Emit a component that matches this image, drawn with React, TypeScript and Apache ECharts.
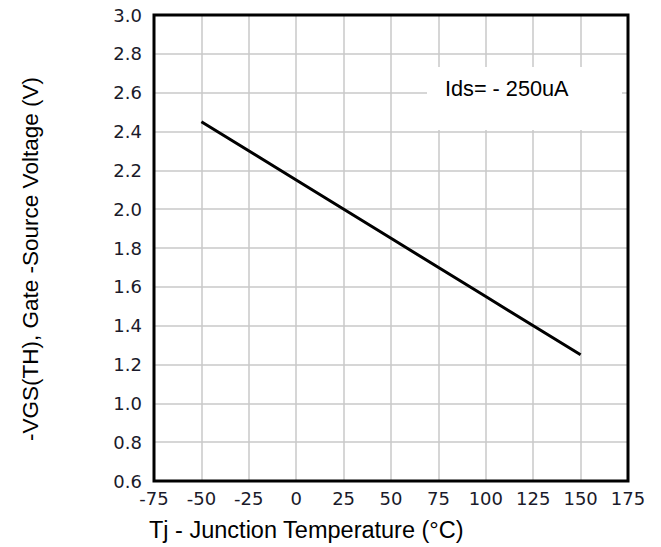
import React, { useEffect, useRef } from "react";
import * as echarts from "echarts";

const temps = [-50, 0, 50, 100, 150];
const vgsth = [2.45, 2.15, 1.85, 1.55, 1.25];
const xTicks = { min: -75, max: 175, interval: 25 };
const yTicks = { min: 0.6, max: 3.0, interval: 0.2 };
const xTitle = "Tj - Junction Temperature (°C)";
const yTitle = "-VGS(TH), Gate -Source Voltage (V)";
const note = "Ids= - 250uA";

export default function App() {
  const ref = useRef<HTMLDivElement>(null);
  useEffect(() => {
    const chart = echarts.init(ref.current!, null, { renderer: "svg" });
    const tick = {
      fontFamily: "'DejaVu Sans', Verdana, sans-serif",
      fontSize: 18,
      color: "#1a1a2a",
    };
    chart.setOption({
      animation: false,
      backgroundColor: "#fff",
      grid: { left: 154, right: 33, top: 15, bottom: 66, containLabel: false },
      xAxis: {
        type: "value",
        min: xTicks.min,
        max: xTicks.max,
        interval: xTicks.interval,
        axisLine: { show: false },
        axisTick: { show: false },
        axisLabel: {
          margin: 8,
          formatter: (v: number) => `{t|${v}}`,
          rich: { t: tick },
        },
        splitLine: { show: true, lineStyle: { color: "#c8c8c8", width: 1.5 } },
      },
      yAxis: {
        type: "value",
        min: yTicks.min,
        max: yTicks.max,
        interval: yTicks.interval,
        axisLine: { show: false },
        axisTick: { show: false },
        axisLabel: {
          margin: 12,
          formatter: (v: number) => `{t|${v.toFixed(1)}}`,
          rich: { t: tick },
        },
        splitLine: { show: true, lineStyle: { color: "#c8c8c8", width: 1.5 } },
      },
      series: [
        {
          type: "line",
          data: temps.map((t, i) => [t, vgsth[i]]),
          symbol: "none",
          lineStyle: { color: "#000", width: 3 },
          z: 5,
        },
      ],
      graphic: [
        {
          type: "rect",
          shape: { x: 427, y: 67, width: 195, height: 63 },
          style: { fill: "#fff" },
          z: 10,
        },
        {
          type: "text",
          x: 445,
          y: 88,
          style: {
            text: note,
            font: "21.7px 'Liberation Sans', Arial, sans-serif",
            fill: "#000",
            verticalAlign: "middle",
            align: "left",
          },
          z: 11,
        },
        {
          type: "rect",
          shape: { x: 154, y: 15, width: 474, height: 466 },
          style: { fill: "none", stroke: "#000", lineWidth: 3 },
          z: 20,
        },
        {
          type: "text",
          x: 149,
          y: 530,
          style: {
            text: xTitle,
            font: "23.5px 'Liberation Sans', Arial, sans-serif",
            fill: "#000",
            verticalAlign: "middle",
            align: "left",
          },
        },
        {
          type: "text",
          x: 30,
          y: 259,
          rotation: Math.PI / 2,
          style: {
            text: yTitle,
            font: "22.5px 'Liberation Sans', Arial, sans-serif",
            fill: "#000",
            verticalAlign: "middle",
            align: "center",
          },
        },
      ],
    });
    return () => chart.dispose();
  }, []);
  return (
    <div
      ref={ref}
      style={{ position: "fixed", left: 0, top: 0, width: 661, height: 547 }}
    />
  );
}
